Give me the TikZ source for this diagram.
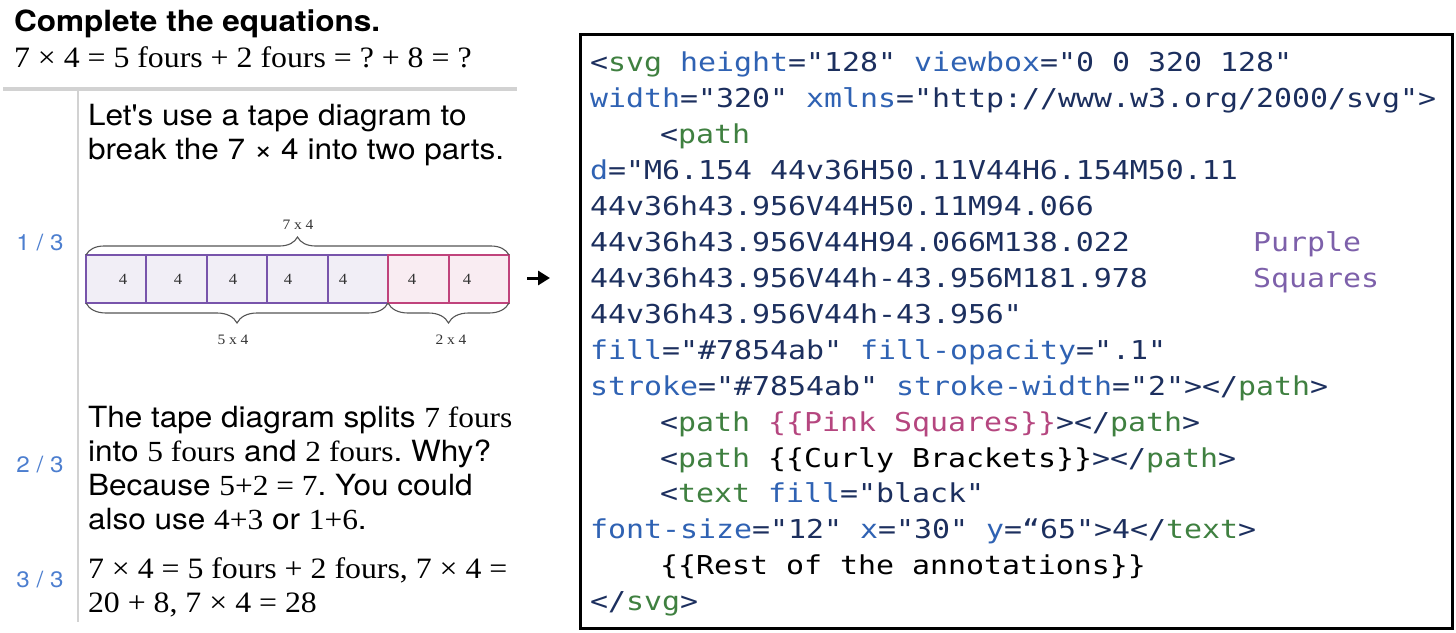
\documentclass[tikz,border=0pt]{standalone}
\usepackage{fontspec}
\setmainfont{Liberation Serif}[FakeStretch=1.075]
\newfontfamily\hel{TeX Gyre Heros}[FakeStretch=1.08]
\newfontfamily\mono{DejaVu Sans Mono}[FakeStretch=1.15]
\usetikzlibrary{decorations.pathreplacing,arrows.meta}
\definecolor{navy}{HTML}{1C2F5E}
\definecolor{tgc}{HTML}{3F8040}
\definecolor{atc}{HTML}{2F62B3}
\definecolor{purp}{HTML}{7854AB}
\definecolor{pinkc}{HTML}{C0437C}
\definecolor{pinkt}{HTML}{B5467F}
\definecolor{purpt}{HTML}{7D60AA}
\definecolor{stepblue}{HTML}{4C7ECF}
\definecolor{rule}{HTML}{D2D2D2}
\definecolor{bracec}{HTML}{555555}
\newcommand\Tg[1]{\textcolor{tgc}{#1}}
\newcommand\At[1]{\textcolor{atc}{#1}}
\frenchspacing
\tikzset{
  txt/.style={anchor=base west, inner sep=0pt, outer sep=0pt},
  sanstxt/.style={txt, font=\hel\fontsize{14.6}{17}\selectfont},
  seriftxt/.style={txt, font=\fontsize{14.8}{17}\selectfont},
  codetxt/.style={txt, font=\mono\fontsize{13}{18}\selectfont, text=navy},
  stepnum/.style={anchor=base, inner sep=0pt, text=stepblue, font=\hel\fontsize{11.2}{12}\selectfont},
  purpbox/.style={draw=purp, fill=purp, fill opacity=0.1, draw opacity=1, line width=1pt},
  pinkbox/.style={draw=pinkc, fill=pinkc, fill opacity=0.1, draw opacity=1, line width=1pt},
  cell/.style={inner sep=0pt, font=\fontsize{7.8}{9}\selectfont, text=black!80},
  tapelbl/.style={inner sep=0pt, font=\fontsize{7.2}{8}\selectfont, text=black!80},
  bracestyle/.style={draw=bracec, line width=0.55pt, decorate},
}
\begin{document}
\begin{tikzpicture}[x=0.5pt,y=-0.5pt]
\useasboundingbox (0,0) rectangle (1456,632);
% header
\node[txt, font=\hel\bfseries\fontsize{14.6}{16}\selectfont] (title) at (14,31) {Complete the equations.};
\node[seriftxt] (eq) at (14,67) {7 × 4 = 5 fours + 2 fours = ? + 8 = ?};
\draw[rule, line width=1.6pt] (3,89) -- (517,89);
\draw[rule, line width=1pt] (78,90) -- (78,622);
% step numbers
\node[stepnum] (s1) at (40,250) {1 / 3};
\node[stepnum] (s2) at (40,472) {2 / 3};
\node[stepnum] (s3) at (40,587) {3 / 3};
% step 1 text
\node[sanstxt] (t1a) at (88,125) {Let's use a tape diagram to};
\node[sanstxt] (t1b) at (88,159) {break the 7 × 4 into two parts.};
% tape diagram
\foreach \i in {0,...,4} {
  \path[purpbox] ({86+60.4*\i},255) rectangle ({86+60.4*(\i+1)},303);
}
\foreach \i in {0,1} {
  \path[pinkbox] ({388+60.5*\i},255) rectangle ({388+60.5*(\i+1)},303);
}
\foreach \xx/\nm in {123/c1,178/c2,233/c3,288/c4,343/c5,412/c6,467/c7} {
  \node[cell] (\nm) at (\xx,279) {4};
}
\draw[bracestyle, decoration={brace, amplitude=9pt}] (86,255) -- (509,255);
\draw[bracestyle, decoration={brace, amplitude=10pt}] (388,303) -- (86,303);
\draw[bracestyle, decoration={brace, amplitude=10pt}] (509,303) -- (388,303);
\node[tapelbl] (l7) at (298,225) {7 x 4};
\node[tapelbl] (l5) at (233,340) {5 x 4};
\node[tapelbl] (l2) at (451,340) {2 x 4};
% arrow
\coordinate (a1) at (527,278);
\coordinate (a2) at (550,278);
\draw[line width=1.5pt, -{Triangle[length=6pt,width=7pt]}] (a1) -- (a2);
% step 2 text
\node[sanstxt] (t2a) at (88,427) {The tape diagram splits {\rmfamily 7 fours}};
\node[sanstxt] (t2b) at (88,461) {into {\rmfamily 5 fours} and {\rmfamily 2 fours}. Why?};
\node[sanstxt] (t2c) at (88,495) {Because {\rmfamily 5+2 = 7}. You could};
\node[sanstxt] (t2d) at (88,529) {also use {\rmfamily 4+3} or {\rmfamily 1+6}.};
% step 3 text
\node[seriftxt] (t3a) at (88,578) {7 × 4 = 5 fours + 2 fours, 7 × 4 =};
\node[seriftxt] (t3b) at (88,612) {20 + 8, 7 × 4 = 28};
% code box
\draw[black, line width=1.5pt] (580,34) rectangle (1452,628);
\node[codetxt] (k1) at (590,71) {<\Tg{svg} \At{height}="128" \At{viewbox}="0 0 320 128"};
\node[codetxt] (k2) at (590,107) {\At{width}="320" \At{xmlns}="http://www.w3.org/2000/svg">};
\node[codetxt] (k3) at (660,143) {<\Tg{path}};
\node[codetxt] (k4) at (590,179) {\At{d}="M6.154 44v36H50.11V44H6.154M50.11};
\node[codetxt] (k5) at (590,215) {44v36h43.956V44H50.11M94.066};
\node[codetxt] (k6) at (590,251) {44v36h43.956V44H94.066M138.022};
\node[codetxt] (k7) at (590,287) {44v36h43.956V44h-43.956M181.978};
\node[codetxt] (k8) at (590,323) {44v36h43.956V44h-43.956"};
\node[codetxt] (k9) at (590,359) {\At{fill}="\#7854ab" \At{fill-opacity}=".1"};
\node[codetxt] (k10) at (590,395) {\At{stroke}="\#7854ab" \At{stroke-width}="2"></\Tg{path}>};
\node[codetxt] (k11) at (660,431) {<\Tg{path} \textcolor{pinkt}{\{\{Pink Squares\}\}}></\Tg{path}>};
\node[codetxt] (k12) at (660,467) {<\Tg{path} \textcolor{black}{\{\{Curly Brackets\}\}}></\Tg{path}>};
\node[codetxt] (k13) at (660,502) {<\Tg{text} \At{fill}="black"};
\node[codetxt] (k14) at (590,538) {\At{font-size}="12" \At{x}="30" \At{y}=“65">4</\Tg{text}>};
\node[codetxt, text=black] (k15) at (660,574) {\{\{Rest of the annotations\}\}};
\node[codetxt] (k16) at (590,610) {</\Tg{svg}>};
\node[codetxt, text=purpt] (pq1) at (1253,251) {Purple};
\node[codetxt, text=purpt] (pq2) at (1253,287) {Squares};
\end{tikzpicture}
\end{document}
